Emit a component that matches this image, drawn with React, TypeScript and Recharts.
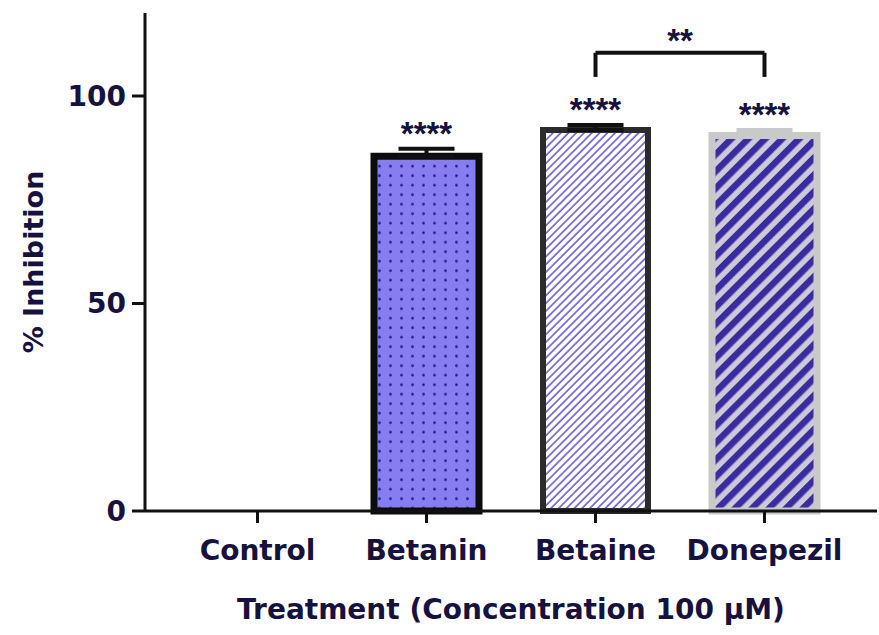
import React from 'react'
import {
  BarChart,
  Bar,
  Cell,
  XAxis,
  YAxis,
  ErrorBar,
  LabelList,
  ReferenceLine,
} from 'recharts'

const categories = ['Control', 'Betanin', 'Betaine', 'Donepezil']
const inhibition = [0, 85.5, 91.8, 90.5]
const sem = [0, 1.8, 1.2, 1.3]
const stars = ['', '****', '****', '****']
const yTicks = [0, 50, 100]

// comparison bracket Betaine vs Donepezil
const bracketTop = 110.4
const bracketFoot = 104.6
const bracketStars = '**'

const fills = ['#ffffff', 'url(#dotFill)', 'url(#thinStripe)', 'url(#boldStripe)']
const strokes = ['#111111', '#0c0c0c', '#2b2b2b', '#c9c9c9']

const data = categories.map((name, i) => ({
  name,
  value: inhibition[i],
  errDark: i > 0 && i < 3 ? [0, sem[i]] : undefined,
  errGray: i === 3 ? [0, sem[i]] : undefined,
}))

const ink = '#16113d'
const font = 'DejaVu Sans'

// asterisks sit just above each error bar cap
const renderStars = (props: any) => {
  const vb = props.viewBox || {}
  const x = props.x ?? vb.x
  const y = props.y ?? vb.y
  const width = props.width ?? vb.width
  const height = props.height ?? vb.height
  const i = categories.indexOf(props.value)
  if (i < 0 || !stars[i]) return null
  const errPx = inhibition[i] ? (sem[i] * Math.abs(height)) / inhibition[i] : 0
  return (
    <text
      x={x + width / 2}
      y={y - errPx - 4}
      textAnchor="middle"
      fill={ink}
      fontSize={33}
      fontWeight="bold"
      fontFamily="Liberation Sans"
    >
      {stars[i]}
    </text>
  )
}

export default function App() {
  return (
    <div style={{ position: 'absolute', left: 0, top: 0, width: 879, height: 635, background: '#fff' }}>
      <BarChart
        width={879}
        height={635}
        data={data}
        margin={{ top: 13, right: 2, left: 0, bottom: 0 }}
        barSize={105}
      >
        <defs>
          <pattern id="dotFill" width="11" height="9.5" patternUnits="userSpaceOnUse">
            <rect width="11" height="9.5" fill="#857df0" />
            <circle cx="5.5" cy="4.75" r="1.4" fill="#2a1a8c" />
          </pattern>
          <pattern id="thinStripe" width="5.5" height="10" patternUnits="userSpaceOnUse" patternTransform="rotate(45)">
            <rect width="5.5" height="10" fill="#ffffff" />
            <line x1="1" y1="0" x2="1" y2="10" stroke="#5a42c8" strokeWidth="1.4" />
          </pattern>
          <pattern id="boldStripe" width="12" height="10" patternUnits="userSpaceOnUse" patternTransform="rotate(45)">
            <rect width="12" height="10" fill="#cdcad8" />
            <rect width="6.5" height="10" fill="#3b2ba0" />
          </pattern>
        </defs>
        <XAxis
          dataKey="name"
          height={124}
          padding={{ left: 28, right: 28 }}
          axisLine={{ stroke: '#111', strokeWidth: 3 }}
          tickLine={{ stroke: '#111', strokeWidth: 3 }}
          tickSize={12}
          tickMargin={17}
          tick={{ fill: ink, fontSize: 28, fontWeight: 'bold', fontFamily: font }}
          label={{
            value: 'Treatment (Concentration 100 μM)',
            position: 'insideBottom',
            offset: 16,
            fill: ink,
            fontSize: 28,
            fontWeight: 'bold',
            fontFamily: font,
          }}
        />
        <YAxis
          width={145}
          domain={[0, 120]}
          ticks={yTicks}
          axisLine={{ stroke: '#111', strokeWidth: 3 }}
          tickLine={{ stroke: '#111', strokeWidth: 3 }}
          tickSize={13}
          tickMargin={6}
          tick={{ fill: ink, fontSize: 28, fontWeight: 'bold', fontFamily: font }}
          label={{
            value: '% Inhibition',
            angle: -90,
            position: 'insideLeft',
            offset: 33,
            fill: ink,
            fontSize: 27,
            fontWeight: 'bold',
            fontFamily: font,
            style: { textAnchor: 'middle' },
          }}
        />
        <Bar dataKey="value" isAnimationActive={false}>
          {data.map((d, i) => (
            <Cell key={d.name} fill={fills[i]} stroke={strokes[i]} strokeWidth={i === 2 ? 6 : 7} />
          ))}
          <ErrorBar dataKey="errDark" width={28} strokeWidth={4} stroke="#111" direction="y" />
          <ErrorBar dataKey="errGray" width={28} strokeWidth={4} stroke="#c9c9c9" direction="y" />
          <LabelList dataKey="name" content={renderStars} />
        </Bar>
        <ReferenceLine
          segment={[{ x: 'Betaine', y: bracketTop }, { x: 'Donepezil', y: bracketTop }]}
          stroke="#111"
          strokeWidth={4}
          label={{
            value: bracketStars,
            position: 'top',
            offset: 1,
            fill: ink,
            fontSize: 33,
            fontWeight: 'bold',
            fontFamily: 'Liberation Sans',
          }}
        />
        <ReferenceLine
          segment={[{ x: 'Betaine', y: bracketTop }, { x: 'Betaine', y: bracketFoot }]}
          stroke="#111"
          strokeWidth={4}
        />
        <ReferenceLine
          segment={[{ x: 'Donepezil', y: bracketTop }, { x: 'Donepezil', y: bracketFoot }]}
          stroke="#111"
          strokeWidth={4}
        />
      </BarChart>
    </div>
  )
}
